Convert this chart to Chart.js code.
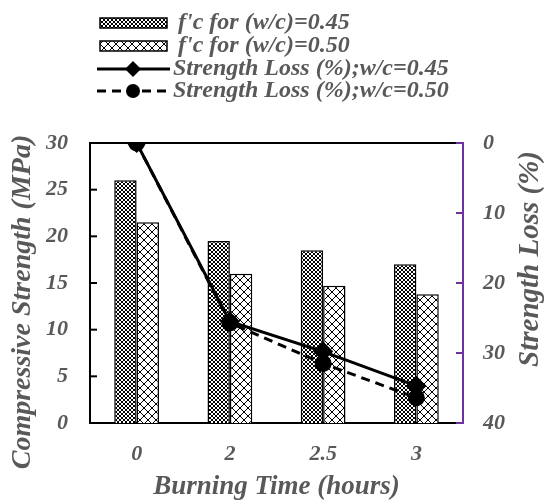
<!DOCTYPE html>
<html>
<head>
<meta charset="utf-8">
<script src="https://cdn.jsdelivr.net/npm/chart.js@4"></script>
<style>
  html, body { margin: 0; padding: 0; background: #fff; }
  #wrap { width: 545px; height: 504px; }
</style>
</head>
<body>
<div id="wrap"><canvas id="chart" width="545" height="504"></canvas></div>
<script>
const categories = ['0', '2', '2.5', '3'];
const fc045 = [26, 19.5, 18.5, 17];
const fc050 = [21.5, 16, 14.7, 13.8];
const loss045 = [0, 25.5, 29.8, 34.7];
const loss050 = [0, 25.7, 31.5, 36.4];
const seriesNames = [
    "f'c for (w/c)=0.45",
    "f'c for (w/c)=0.50",
    'Strength Loss (%);w/c=0.45',
    'Strength Loss (%);w/c=0.50'
];
const yTitle = 'Compressive Strength (MPa)';
const y1Title = 'Strength Loss (%)';

const textGray = '#595959';
const purple = '#7030A0';
const serif = "'Liberation Serif', 'Times New Roman', serif";

const canvas = document.getElementById('chart');
const ctx = canvas.getContext('2d');

function makePattern(size) {
    const c = document.createElement('canvas');
    c.width = c.height = size;
    const g = c.getContext('2d');
    g.fillStyle = '#fff';
    g.fillRect(0, 0, size, size);
    g.fillStyle = '#000';
    for (let i = 0; i < size; i++) {
        g.fillRect(i, i, 1, 1);
        g.fillRect(size - 1 - i, i, 1, 1);
    }
    return ctx.createPattern(c, 'repeat');
}

const densePattern = makePattern(4);
const crossPattern = makePattern(8);

const tickFont = { family: serif, size: 22, weight: 'bold', style: 'italic' };
const titleFont = { family: serif, size: 27, weight: 'bold', style: 'italic' };

function sideTitle(c, text, x, y, size) {
    c.save();
    c.fillStyle = textGray;
    c.font = 'italic bold ' + size + 'px ' + serif;
    c.textAlign = 'center';
    c.textBaseline = 'middle';
    c.translate(x, y);
    c.rotate(-Math.PI / 2);
    c.fillText(text, 0, 0);
    c.restore();
}

// inward ticks, top border, side titles and the stacked legend
const extras = {
    id: 'extras',
    afterDraw(chart) {
        const c = chart.ctx;
        const area = chart.chartArea;
        const y = chart.scales.y;
        const y1 = chart.scales.y1;
        c.save();
        c.lineWidth = 2;
        c.strokeStyle = '#000';
        c.beginPath();
        c.moveTo(area.left, area.top);
        c.lineTo(area.right, area.top);
        c.stroke();
        y.ticks.forEach(t => {
            const p = y.getPixelForValue(t.value);
            c.beginPath();
            c.moveTo(area.left, p);
            c.lineTo(area.left + 7, p);
            c.stroke();
        });
        c.strokeStyle = purple;
        y1.ticks.forEach(t => {
            const p = y1.getPixelForValue(t.value);
            c.beginPath();
            c.moveTo(area.right - 7, p);
            c.lineTo(area.right, p);
            c.stroke();
        });
        c.restore();

        sideTitle(c, yTitle, 23, 302, 28);
        sideTitle(c, y1Title, 531, 259, 29);

        // legend
        const rows = [23, 46, 69, 91];
        c.save();
        c.font = 'italic bold 24px ' + serif;
        c.textBaseline = 'middle';
        c.textAlign = 'left';
        chart.data.datasets.forEach((ds, i) => {
            const ry = rows[i];
            if (ds.type === 'bar') {
                c.fillStyle = ds.backgroundColor;
                c.fillRect(100, ry - 5, 67, 10);
                c.lineWidth = 1.5;
                c.strokeStyle = '#000';
                c.strokeRect(100, ry - 5, 67, 10);
            } else {
                c.lineWidth = 3;
                c.strokeStyle = '#000';
                c.setLineDash(ds.borderDash || []);
                c.beginPath();
                c.moveTo(97, ry);
                c.lineTo(170, ry);
                c.stroke();
                c.setLineDash([]);
                c.fillStyle = '#000';
                c.beginPath();
                if (ds.pointStyle === 'rectRot') {
                    c.moveTo(133, ry - 8);
                    c.lineTo(141, ry);
                    c.lineTo(133, ry + 8);
                    c.lineTo(125, ry);
                    c.closePath();
                } else {
                    c.arc(133, ry, 7, 0, Math.PI * 2);
                }
                c.fill();
            }
            c.fillStyle = textGray;
            c.fillText(ds.label, ds.type === 'bar' ? 178 : 173, ry);
        });
        c.restore();
    }
};

new Chart(canvas, {
    data: {
        labels: categories,
        datasets: [
            {
                type: 'bar',
                label: seriesNames[0],
                data: fc045,
                yAxisID: 'y',
                backgroundColor: densePattern,
                borderColor: '#000',
                borderWidth: 1.5,
                order: 2
            },
            {
                type: 'bar',
                label: seriesNames[1],
                data: fc050,
                yAxisID: 'y',
                backgroundColor: crossPattern,
                borderColor: '#000',
                borderWidth: 1.5,
                order: 3
            },
            {
                type: 'line',
                label: seriesNames[2],
                data: loss045,
                yAxisID: 'y1',
                borderColor: '#000',
                borderWidth: 3,
                pointStyle: 'rectRot',
                pointRadius: 8,
                pointBackgroundColor: '#000',
                pointBorderColor: '#000',
                order: 1
            },
            {
                type: 'line',
                label: seriesNames[3],
                data: loss050,
                yAxisID: 'y1',
                borderColor: '#000',
                borderWidth: 3,
                borderDash: [9, 6],
                pointStyle: 'circle',
                pointRadius: 7,
                pointBackgroundColor: '#000',
                pointBorderColor: '#000',
                order: 0
            }
        ]
    },
    options: {
        responsive: false,
        animation: false,
        layout: { padding: { top: 143, left: 0, right: 0, bottom: 0 } },
        datasets: { bar: { categoryPercentage: 0.48, barPercentage: 1 } },
        plugins: {
            legend: { display: false },
            tooltip: { enabled: false }
        },
        scales: {
            x: {
                grid: { display: false, drawTicks: false },
                border: { color: '#000', width: 2 },
                ticks: { color: textGray, font: tickFont, padding: 18 },
                title: {
                    display: true,
                    text: 'Burning Time (hours)',
                    color: textGray,
                    font: titleFont,
                    padding: { top: 4, bottom: 1 }
                },
                afterFit(scale) { scale.height = 81; }
            },
            y: {
                position: 'left',
                min: 0,
                max: 30,
                ticks: { stepSize: 5, color: textGray, font: tickFont, padding: 22 },
                grid: { display: false, drawTicks: false },
                border: { color: '#000', width: 2 },
                afterFit(scale) { scale.width = 90; }
            },
            y1: {
                position: 'right',
                reverse: true,
                min: 0,
                max: 40,
                ticks: { stepSize: 10, color: textGray, font: tickFont, padding: 20 },
                grid: { display: false, drawTicks: false },
                border: { color: purple, width: 2 },
                afterFit(scale) { scale.width = 82; }
            }
        }
    },
    plugins: [extras]
});
</script>
</body>
</html>
